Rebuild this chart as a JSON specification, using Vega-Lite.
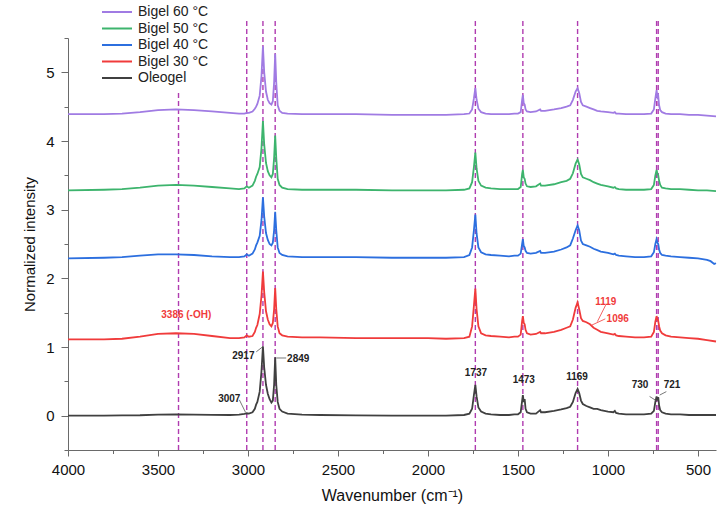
{
  "$schema": "https://vega.github.io/schema/vega-lite/v6.json",
  "width": 648,
  "height": 412,
  "autosize": {"type": "none"},
  "padding": {"left": 68, "top": 38, "right": 11, "bottom": 65},
  "background": "white",
  "config": {
    "view": {"stroke": null},
    "font": "Liberation Sans",
    "axis": {
      "domainColor": "#6a6a6a",
      "tickColor": "#6a6a6a",
      "labelFont": "Liberation Sans",
      "labelFontSize": 15,
      "labelColor": "#111",
      "titleFont": "Liberation Sans",
      "titleFontWeight": "normal",
      "titleColor": "#111",
      "grid": false,
      "labelOverlap": false,
      "labelFlush": false
    }
  },
  "datasets": {
    "oleogel": [
      {"x":4000,"y":0},{"x":3800,"y":0},{"x":3700,"y":0.003},{"x":3600,"y":0.006},{"x":3500,"y":0.015},{"x":3400,"y":0.02},{"x":3300,"y":0.016},{"x":3200,"y":0.011},{"x":3100,"y":0.01},{"x":3050,"y":0.015},{"x":3020,"y":0.025},{"x":3007,"y":0.035},{"x":2995,"y":0.03},{"x":2975,"y":0.05},{"x":2962,"y":0.1},{"x":2955,"y":0.16},{"x":2948,"y":0.2},{"x":2935,"y":0.35},{"x":2925,"y":0.65},{"x":2917,"y":1.01},{"x":2910,"y":0.7},{"x":2900,"y":0.45},{"x":2890,"y":0.32},{"x":2880,"y":0.24},{"x":2870,"y":0.19},{"x":2862,"y":0.22},{"x":2855,"y":0.45},{"x":2849,"y":0.85},{"x":2843,"y":0.45},{"x":2835,"y":0.2},{"x":2825,"y":0.1},{"x":2810,"y":0.06},{"x":2780,"y":0.03},{"x":2700,"y":0.015},{"x":2600,"y":0.01},{"x":2400,"y":0.005},{"x":2200,"y":0},{"x":2000,"y":0},{"x":1900,"y":0},{"x":1800,"y":0.01},{"x":1770,"y":0.03},{"x":1755,"y":0.1},{"x":1745,"y":0.3},{"x":1737,"y":0.45},{"x":1730,"y":0.28},{"x":1720,"y":0.12},{"x":1705,"y":0.06},{"x":1680,"y":0.03},{"x":1650,"y":0.02},{"x":1600,"y":0.01},{"x":1550,"y":0.01},{"x":1520,"y":0.02},{"x":1500,"y":0.02},{"x":1485,"y":0.05},{"x":1477,"y":0.22},{"x":1473,"y":0.3},{"x":1468,"y":0.2},{"x":1463,"y":0.24},{"x":1458,"y":0.1},{"x":1450,"y":0.05},{"x":1430,"y":0.03},{"x":1400,"y":0.03},{"x":1377,"y":0.08},{"x":1372,"y":0.05},{"x":1350,"y":0.05},{"x":1300,"y":0.07},{"x":1260,"y":0.09},{"x":1230,"y":0.11},{"x":1210,"y":0.13},{"x":1195,"y":0.2},{"x":1180,"y":0.33},{"x":1169,"y":0.39},{"x":1160,"y":0.33},{"x":1150,"y":0.22},{"x":1140,"y":0.17},{"x":1120,"y":0.14},{"x":1100,"y":0.12},{"x":1080,"y":0.1},{"x":1060,"y":0.1},{"x":1040,"y":0.08},{"x":1000,"y":0.06},{"x":970,"y":0.05},{"x":962,"y":0.07},{"x":955,"y":0.04},{"x":940,"y":0.03},{"x":900,"y":0.02},{"x":850,"y":0.02},{"x":800,"y":0.02},{"x":760,"y":0.03},{"x":745,"y":0.07},{"x":737,"y":0.2},{"x":730,"y":0.28},{"x":725,"y":0.22},{"x":721,"y":0.27},{"x":716,"y":0.15},{"x":710,"y":0.08},{"x":700,"y":0.05},{"x":680,"y":0.03},{"x":650,"y":0.02},{"x":600,"y":0.02},{"x":550,"y":0.01},{"x":500,"y":0.01},{"x":450,"y":0.01},{"x":400,"y":0.01}
    ],
    "b30": [
      {"x":4000,"y":1.11},{"x":3800,"y":1.11},{"x":3700,"y":1.12},{"x":3600,"y":1.15},{"x":3500,"y":1.19},{"x":3400,"y":1.2},{"x":3300,"y":1.19},{"x":3200,"y":1.16},{"x":3100,"y":1.13},{"x":3050,"y":1.13},{"x":3020,"y":1.14},{"x":3007,"y":1.17},{"x":2995,"y":1.15},{"x":2975,"y":1.16},{"x":2962,"y":1.22},{"x":2955,"y":1.28},{"x":2948,"y":1.32},{"x":2935,"y":1.48},{"x":2925,"y":1.75},{"x":2917,"y":2.1},{"x":2910,"y":1.8},{"x":2900,"y":1.52},{"x":2890,"y":1.4},{"x":2880,"y":1.33},{"x":2870,"y":1.3},{"x":2862,"y":1.35},{"x":2855,"y":1.55},{"x":2849,"y":1.86},{"x":2843,"y":1.55},{"x":2835,"y":1.3},{"x":2825,"y":1.2},{"x":2810,"y":1.17},{"x":2780,"y":1.15},{"x":2700,"y":1.14},{"x":2600,"y":1.14},{"x":2400,"y":1.13},{"x":2200,"y":1.13},{"x":2000,"y":1.13},{"x":1900,"y":1.12},{"x":1800,"y":1.13},{"x":1770,"y":1.15},{"x":1755,"y":1.3},{"x":1745,"y":1.6},{"x":1737,"y":1.85},{"x":1730,"y":1.55},{"x":1720,"y":1.3},{"x":1705,"y":1.2},{"x":1680,"y":1.17},{"x":1650,"y":1.16},{"x":1600,"y":1.15},{"x":1550,"y":1.14},{"x":1520,"y":1.15},{"x":1500,"y":1.15},{"x":1485,"y":1.18},{"x":1477,"y":1.38},{"x":1473,"y":1.45},{"x":1468,"y":1.35},{"x":1463,"y":1.33},{"x":1458,"y":1.25},{"x":1450,"y":1.2},{"x":1430,"y":1.18},{"x":1400,"y":1.19},{"x":1377,"y":1.22},{"x":1372,"y":1.2},{"x":1350,"y":1.2},{"x":1300,"y":1.22},{"x":1260,"y":1.25},{"x":1230,"y":1.28},{"x":1210,"y":1.3},{"x":1195,"y":1.4},{"x":1180,"y":1.57},{"x":1169,"y":1.65},{"x":1160,"y":1.55},{"x":1150,"y":1.42},{"x":1140,"y":1.38},{"x":1120,"y":1.36},{"x":1100,"y":1.33},{"x":1080,"y":1.28},{"x":1060,"y":1.25},{"x":1040,"y":1.22},{"x":1000,"y":1.2},{"x":970,"y":1.18},{"x":962,"y":1.19},{"x":955,"y":1.17},{"x":940,"y":1.16},{"x":900,"y":1.15},{"x":850,"y":1.14},{"x":800,"y":1.14},{"x":760,"y":1.15},{"x":745,"y":1.22},{"x":737,"y":1.37},{"x":730,"y":1.45},{"x":725,"y":1.4},{"x":721,"y":1.38},{"x":716,"y":1.3},{"x":710,"y":1.24},{"x":700,"y":1.2},{"x":680,"y":1.17},{"x":650,"y":1.15},{"x":600,"y":1.14},{"x":550,"y":1.13},{"x":500,"y":1.12},{"x":450,"y":1.1},{"x":400,"y":1.08}
    ],
    "b40": [
      {"x":4000,"y":2.29},{"x":3800,"y":2.3},{"x":3700,"y":2.31},{"x":3600,"y":2.33},{"x":3500,"y":2.35},{"x":3400,"y":2.35},{"x":3300,"y":2.34},{"x":3200,"y":2.32},{"x":3100,"y":2.31},{"x":3050,"y":2.31},{"x":3020,"y":2.32},{"x":3007,"y":2.35},{"x":2995,"y":2.33},{"x":2975,"y":2.36},{"x":2962,"y":2.42},{"x":2955,"y":2.48},{"x":2948,"y":2.52},{"x":2935,"y":2.62},{"x":2925,"y":2.85},{"x":2917,"y":3.18},{"x":2910,"y":2.9},{"x":2900,"y":2.66},{"x":2890,"y":2.56},{"x":2880,"y":2.5},{"x":2870,"y":2.48},{"x":2862,"y":2.52},{"x":2855,"y":2.7},{"x":2849,"y":2.97},{"x":2843,"y":2.7},{"x":2835,"y":2.45},{"x":2825,"y":2.37},{"x":2810,"y":2.34},{"x":2780,"y":2.32},{"x":2700,"y":2.31},{"x":2600,"y":2.31},{"x":2400,"y":2.31},{"x":2200,"y":2.3},{"x":2000,"y":2.3},{"x":1900,"y":2.3},{"x":1800,"y":2.31},{"x":1770,"y":2.34},{"x":1755,"y":2.45},{"x":1745,"y":2.7},{"x":1737,"y":2.93},{"x":1730,"y":2.65},{"x":1720,"y":2.45},{"x":1705,"y":2.38},{"x":1680,"y":2.35},{"x":1650,"y":2.34},{"x":1600,"y":2.33},{"x":1550,"y":2.32},{"x":1520,"y":2.33},{"x":1500,"y":2.33},{"x":1485,"y":2.36},{"x":1477,"y":2.5},{"x":1473,"y":2.57},{"x":1468,"y":2.47},{"x":1463,"y":2.45},{"x":1458,"y":2.4},{"x":1450,"y":2.37},{"x":1430,"y":2.36},{"x":1400,"y":2.37},{"x":1377,"y":2.4},{"x":1372,"y":2.37},{"x":1350,"y":2.37},{"x":1300,"y":2.39},{"x":1260,"y":2.42},{"x":1230,"y":2.45},{"x":1210,"y":2.48},{"x":1195,"y":2.58},{"x":1180,"y":2.7},{"x":1169,"y":2.77},{"x":1160,"y":2.7},{"x":1150,"y":2.55},{"x":1140,"y":2.5},{"x":1120,"y":2.48},{"x":1100,"y":2.46},{"x":1080,"y":2.43},{"x":1060,"y":2.41},{"x":1040,"y":2.39},{"x":1000,"y":2.37},{"x":970,"y":2.35},{"x":962,"y":2.36},{"x":955,"y":2.34},{"x":940,"y":2.33},{"x":900,"y":2.32},{"x":850,"y":2.31},{"x":800,"y":2.31},{"x":760,"y":2.32},{"x":745,"y":2.38},{"x":737,"y":2.5},{"x":730,"y":2.57},{"x":725,"y":2.52},{"x":721,"y":2.5},{"x":716,"y":2.42},{"x":710,"y":2.37},{"x":700,"y":2.34},{"x":680,"y":2.33},{"x":650,"y":2.32},{"x":600,"y":2.31},{"x":550,"y":2.3},{"x":500,"y":2.29},{"x":450,"y":2.27},{"x":430,"y":2.25},{"x":410,"y":2.21},{"x":400,"y":2.22}
    ],
    "b50": [
      {"x":4000,"y":3.28},{"x":3800,"y":3.29},{"x":3700,"y":3.3},{"x":3600,"y":3.32},{"x":3500,"y":3.35},{"x":3400,"y":3.36},{"x":3300,"y":3.35},{"x":3200,"y":3.33},{"x":3100,"y":3.31},{"x":3050,"y":3.3},{"x":3020,"y":3.31},{"x":3007,"y":3.34},{"x":2995,"y":3.32},{"x":2975,"y":3.35},{"x":2962,"y":3.42},{"x":2955,"y":3.48},{"x":2948,"y":3.52},{"x":2935,"y":3.62},{"x":2925,"y":3.9},{"x":2917,"y":4.29},{"x":2910,"y":3.95},{"x":2900,"y":3.68},{"x":2890,"y":3.56},{"x":2880,"y":3.5},{"x":2870,"y":3.47},{"x":2862,"y":3.52},{"x":2855,"y":3.75},{"x":2849,"y":4.08},{"x":2843,"y":3.75},{"x":2835,"y":3.45},{"x":2825,"y":3.36},{"x":2810,"y":3.32},{"x":2780,"y":3.3},{"x":2700,"y":3.29},{"x":2600,"y":3.29},{"x":2400,"y":3.29},{"x":2200,"y":3.28},{"x":2000,"y":3.28},{"x":1900,"y":3.28},{"x":1800,"y":3.29},{"x":1770,"y":3.31},{"x":1755,"y":3.4},{"x":1745,"y":3.62},{"x":1737,"y":3.83},{"x":1730,"y":3.6},{"x":1720,"y":3.42},{"x":1705,"y":3.35},{"x":1680,"y":3.32},{"x":1650,"y":3.31},{"x":1600,"y":3.3},{"x":1550,"y":3.3},{"x":1520,"y":3.3},{"x":1500,"y":3.3},{"x":1485,"y":3.33},{"x":1477,"y":3.52},{"x":1473,"y":3.58},{"x":1468,"y":3.47},{"x":1463,"y":3.45},{"x":1458,"y":3.38},{"x":1450,"y":3.34},{"x":1430,"y":3.33},{"x":1400,"y":3.34},{"x":1377,"y":3.38},{"x":1372,"y":3.35},{"x":1350,"y":3.35},{"x":1300,"y":3.37},{"x":1260,"y":3.4},{"x":1230,"y":3.42},{"x":1210,"y":3.45},{"x":1195,"y":3.53},{"x":1180,"y":3.67},{"x":1169,"y":3.73},{"x":1160,"y":3.66},{"x":1150,"y":3.52},{"x":1140,"y":3.47},{"x":1120,"y":3.45},{"x":1100,"y":3.43},{"x":1080,"y":3.4},{"x":1060,"y":3.38},{"x":1040,"y":3.36},{"x":1000,"y":3.34},{"x":970,"y":3.32},{"x":962,"y":3.33},{"x":955,"y":3.31},{"x":940,"y":3.3},{"x":900,"y":3.29},{"x":850,"y":3.29},{"x":800,"y":3.29},{"x":760,"y":3.3},{"x":745,"y":3.36},{"x":737,"y":3.5},{"x":730,"y":3.58},{"x":725,"y":3.52},{"x":721,"y":3.5},{"x":716,"y":3.42},{"x":710,"y":3.36},{"x":700,"y":3.32},{"x":680,"y":3.31},{"x":650,"y":3.3},{"x":600,"y":3.3},{"x":550,"y":3.29},{"x":500,"y":3.28},{"x":450,"y":3.28},{"x":400,"y":3.27}
    ],
    "b60": [
      {"x":4000,"y":4.39},{"x":3800,"y":4.39},{"x":3700,"y":4.4},{"x":3600,"y":4.42},{"x":3500,"y":4.45},{"x":3400,"y":4.46},{"x":3300,"y":4.45},{"x":3200,"y":4.43},{"x":3100,"y":4.41},{"x":3050,"y":4.4},{"x":3020,"y":4.4},{"x":3007,"y":4.41},{"x":2995,"y":4.41},{"x":2975,"y":4.43},{"x":2962,"y":4.47},{"x":2955,"y":4.5},{"x":2948,"y":4.54},{"x":2935,"y":4.66},{"x":2925,"y":4.95},{"x":2917,"y":5.38},{"x":2910,"y":5.0},{"x":2900,"y":4.72},{"x":2890,"y":4.6},{"x":2880,"y":4.55},{"x":2870,"y":4.53},{"x":2862,"y":4.58},{"x":2855,"y":4.85},{"x":2849,"y":5.27},{"x":2843,"y":4.85},{"x":2835,"y":4.52},{"x":2825,"y":4.44},{"x":2810,"y":4.41},{"x":2780,"y":4.4},{"x":2700,"y":4.39},{"x":2600,"y":4.39},{"x":2400,"y":4.39},{"x":2200,"y":4.38},{"x":2000,"y":4.38},{"x":1900,"y":4.38},{"x":1800,"y":4.39},{"x":1770,"y":4.4},{"x":1755,"y":4.46},{"x":1745,"y":4.62},{"x":1737,"y":4.77},{"x":1730,"y":4.6},{"x":1720,"y":4.47},{"x":1705,"y":4.42},{"x":1680,"y":4.4},{"x":1650,"y":4.39},{"x":1600,"y":4.39},{"x":1550,"y":4.39},{"x":1520,"y":4.4},{"x":1500,"y":4.4},{"x":1485,"y":4.42},{"x":1477,"y":4.6},{"x":1473,"y":4.67},{"x":1468,"y":4.55},{"x":1463,"y":4.53},{"x":1458,"y":4.46},{"x":1450,"y":4.43},{"x":1430,"y":4.42},{"x":1400,"y":4.43},{"x":1377,"y":4.46},{"x":1372,"y":4.44},{"x":1350,"y":4.44},{"x":1300,"y":4.46},{"x":1260,"y":4.48},{"x":1230,"y":4.5},{"x":1210,"y":4.52},{"x":1195,"y":4.6},{"x":1180,"y":4.72},{"x":1169,"y":4.77},{"x":1160,"y":4.7},{"x":1150,"y":4.57},{"x":1140,"y":4.52},{"x":1120,"y":4.5},{"x":1100,"y":4.48},{"x":1080,"y":4.46},{"x":1060,"y":4.44},{"x":1040,"y":4.43},{"x":1000,"y":4.42},{"x":970,"y":4.41},{"x":962,"y":4.42},{"x":955,"y":4.4},{"x":940,"y":4.4},{"x":900,"y":4.39},{"x":850,"y":4.39},{"x":800,"y":4.39},{"x":760,"y":4.4},{"x":745,"y":4.46},{"x":737,"y":4.62},{"x":730,"y":4.74},{"x":725,"y":4.64},{"x":721,"y":4.66},{"x":716,"y":4.52},{"x":710,"y":4.45},{"x":700,"y":4.42},{"x":680,"y":4.4},{"x":650,"y":4.39},{"x":600,"y":4.39},{"x":550,"y":4.38},{"x":500,"y":4.38},{"x":450,"y":4.37},{"x":400,"y":4.36}
    ],
    "peaks": [
      {"x":3386,"y":-0.5,"y2":4.72},{"x":3007,"y":-0.5,"y2":5.76},{"x":2917,"y":-0.5,"y2":5.76},{"x":2849,"y":-0.5,"y2":5.76},{"x":1737,"y":-0.5,"y2":5.76},{"x":1473,"y":-0.5,"y2":5.76},{"x":1169,"y":-0.5,"y2":5.76},{"x":730,"y":-0.5,"y2":5.76},{"x":721,"y":-0.5,"y2":5.76}
    ],
    "leadersBlack": [
      {"x":3048,"y":0.23,"x2":3014,"y2":0.05},{"x":2954,"y":0.93,"x2":2920,"y2":1.0},{"x":2843,"y":0.84,"x2":2788,"y2":0.84},{"x":769,"y":0.28,"x2":733,"y2":0.22},{"x":713,"y":0.3,"x2":676,"y2":0.35}
    ],
    "leadersRed": [
      {"x":1013,"y":1.61,"x2":1059,"y2":1.37},{"x":1015,"y":1.41,"x2":1089,"y2":1.32}
    ],
    "labelsBlack": [
      {"t":"3007","x":3104,"y":0.25},{"t":"2917","x":3026,"y":0.87},{"t":"2849","x":2721,"y":0.83},{"t":"1737","x":1734,"y":0.62},{"t":"1473","x":1468,"y":0.52},{"t":"1169","x":1172,"y":0.57},{"t":"730","x":822,"y":0.45},{"t":"721","x":644,"y":0.45}
    ],
    "labelsRed": [
      {"t":"3386 (-OH)","x":3343,"y":1.46},{"t":"1119","x":1012,"y":1.66},{"t":"1096","x":946,"y":1.41}
    ]
  },
  "encoding": {
    "x": {
      "field": "x",
      "type": "quantitative",
      "scale": {"domain": [400, 4000], "reverse": true, "nice": false, "zero": false},
      "axis": {
        "title": "Wavenumber (cm⁻¹)",
        "titleFontSize": 16,
        "titlePadding": 10,
        "values": [4000,3750,3500,3250,3000,2750,2500,2250,2000,1750,1500,1250,1000,750,500],
        "format": "d",
        "labelExpr": "datum.value % 500 === 0 ? datum.label : ''",
        "tickSize": {"condition": {"test": "datum.value % 500 === 0", "value": 6}, "value": 3.5},
        "labelPadding": 6
      }
    },
    "y": {
      "field": "y",
      "type": "quantitative",
      "scale": {"domain": [-0.5, 5.5], "nice": false, "zero": false},
      "axis": {
        "title": "Normalized intensity",
        "titleFontSize": 15,
        "titlePadding": 8,
        "values": [-0.5,0,0.5,1,1.5,2,2.5,3,3.5,4,4.5,5,5.5],
        "labelExpr": "datum.value % 1 === 0 ? format(datum.value, 'd') : ''",
        "tickSize": {"condition": {"test": "datum.value % 1 === 0", "value": 7}, "value": 4},
        "labelPadding": 7
      }
    }
  },
  "layer": [
    {
      "data": {"name": "peaks"},
      "mark": {"type": "rule", "color": "#B03CB0", "strokeWidth": 1.4, "strokeDash": [5, 3]},
      "encoding": {"y2": {"field": "y2"}}
    },
    {
      "data": {"name": "oleogel"},
      "mark": {"type": "line", "strokeWidth": 1.8},
      "encoding": {
        "color": {
          "datum": "Oleogel",
          "type": "nominal",
          "scale": {
            "domain": ["Bigel 60 °C", "Bigel 50 °C", "Bigel 40 °C", "Bigel 30 °C", "Oleogel"],
            "range": ["#A07BE3", "#3DB46D", "#2C6FDF", "#F03B3B", "#404040"]
          },
          "legend": {
            "orient": "none",
            "legendX": 42,
            "legendY": -33,
            "title": null,
            "direction": "vertical",
            "symbolType": "M-3,0L3,0",
            "symbolSize": 100,
            "symbolStrokeWidth": 2,
            "labelFontSize": 14,
            "labelFont": "Liberation Sans",
            "labelColor": "#222",
            "labelOffset": 14,
            "rowPadding": 2.5,
            "padding": 0
          }
        }
      }
    },
    {
      "data": {"name": "b30"},
      "mark": {"type": "line", "strokeWidth": 1.8},
      "encoding": {"color": {"datum": "Bigel 30 °C", "type": "nominal"}}
    },
    {
      "data": {"name": "b40"},
      "mark": {"type": "line", "strokeWidth": 1.8},
      "encoding": {"color": {"datum": "Bigel 40 °C", "type": "nominal"}}
    },
    {
      "data": {"name": "b50"},
      "mark": {"type": "line", "strokeWidth": 1.8},
      "encoding": {"color": {"datum": "Bigel 50 °C", "type": "nominal"}}
    },
    {
      "data": {"name": "b60"},
      "mark": {"type": "line", "strokeWidth": 1.8},
      "encoding": {"color": {"datum": "Bigel 60 °C", "type": "nominal"}}
    },
    {
      "data": {"name": "leadersBlack"},
      "mark": {"type": "rule", "color": "#555", "strokeWidth": 0.8},
      "encoding": {"x2": {"field": "x2"}, "y2": {"field": "y2"}}
    },
    {
      "data": {"name": "leadersRed"},
      "mark": {"type": "rule", "color": "#F03B3B", "strokeWidth": 0.8},
      "encoding": {"x2": {"field": "x2"}, "y2": {"field": "y2"}}
    },
    {
      "data": {"name": "labelsBlack"},
      "mark": {"type": "text", "font": "Liberation Sans", "fontSize": 10, "fontWeight": "bold", "color": "#222", "align": "center", "baseline": "middle"},
      "encoding": {"text": {"field": "t"}}
    },
    {
      "data": {"name": "labelsRed"},
      "mark": {"type": "text", "font": "Liberation Sans", "fontSize": 10, "fontWeight": "bold", "color": "#F03B3B", "align": "center", "baseline": "middle"},
      "encoding": {"text": {"field": "t"}}
    }
  ]
}
